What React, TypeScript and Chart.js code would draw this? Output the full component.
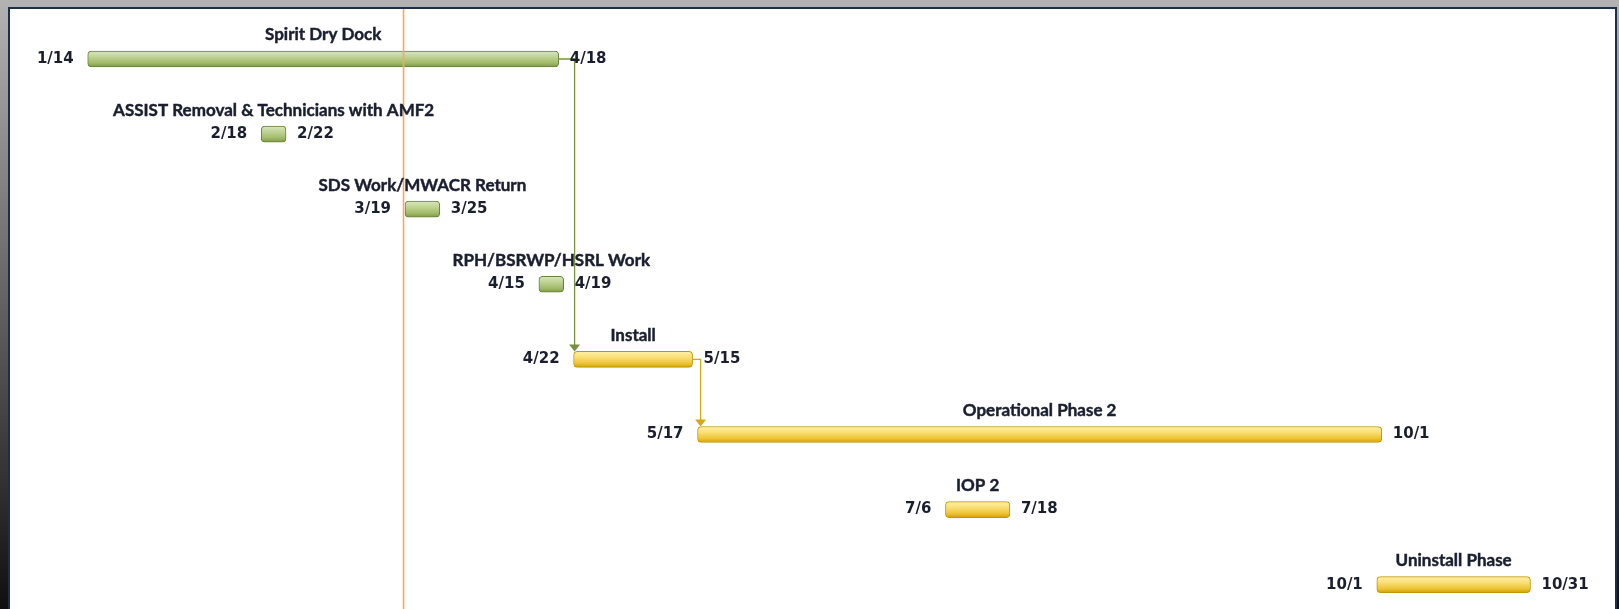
import React, { useEffect, useRef } from "react";
import { Chart, registerables } from "chart.js";

Chart.register(...registerables);

// ---- data ----
const taskNames = [
  "Spirit Dry Dock",
  "ASSIST Removal & Technicians with AMF2",
  "SDS Work/MWACR Return",
  "RPH/BSRWP/HSRL Work",
  "Install",
  "Operational Phase 2",
  "IOP 2",
  "Uninstall Phase",
];
const startDates = ["1/14", "2/18", "3/19", "4/15", "4/22", "5/17", "7/6", "10/1"];
const endDates = ["4/18", "2/22", "3/25", "4/19", "5/15", "10/1", "7/18", "10/31"];
const taskGroups = ["prep", "prep", "prep", "prep", "ops", "ops", "ops", "ops"];
const links: [number, number][] = [
  [0, 4],
  [4, 5],
];
const statusDate = "3/18";
const statusDayFraction = 0.7;

// ---- helpers ----
const monthStarts = [0, 31, 59, 90, 120, 151, 181, 212, 243, 273, 304, 334];
function dayOfYear(md: string): number {
  const [m, d] = md.split("/").map(Number);
  return monthStarts[m - 1] + d;
}

const rows = taskNames.map((_, i) => ({
  x: [dayOfYear(startDates[i]), dayOfYear(endDates[i]) + 1],
  y: i,
}));
const statusValue = dayOfYear(statusDate) + statusDayFraction;

const palette: Record<string, any> = {
  prep: {
    border: "#67833a",
    stops: ["#d9e6c0", "#c0d495", "#a0ba69", "#7d9944"],
    link: "#77913f",
  },
  ops: {
    border: "#c09604",
    stops: ["#fff0a8", "#fbe07a", "#ecc434", "#cfa107"],
    link: "#d4a814",
  },
};

const BAR_H = 16;
const TEXT = "#1a1f30";
const NAME_FONT = "bold 17px Lato";
const DATE_FONT = "bold 15px 'DejaVu Sans'";

const ganttDecor = {
  id: "ganttDecor",
  afterDatasetsDraw(chart: any) {
    const ctx: CanvasRenderingContext2D = chart.ctx;
    const meta = chart.getDatasetMeta(0);
    const xs = chart.scales.x;
    const area = chart.chartArea;
    const boxes = meta.data.map((el: any) => {
      const p = el.getProps(["x", "y", "base"], true);
      return {
        left: Math.min(p.x, p.base),
        right: Math.max(p.x, p.base),
        y: p.y,
      };
    });

    // dependency links
    links.forEach(([a, b]) => {
      const pa = boxes[a];
      const pb = boxes[b];
      const color = palette[taskGroups[a]].link;
      const vx = Math.max(pb.left + 1, pa.right + 8);
      const tipY = pb.y - BAR_H / 2;
      ctx.save();
      ctx.strokeStyle = color;
      ctx.fillStyle = color;
      ctx.lineWidth = 1.3;
      ctx.beginPath();
      ctx.moveTo(pa.right, pa.y);
      ctx.lineTo(vx, pa.y);
      ctx.lineTo(vx, tipY - 6);
      ctx.stroke();
      ctx.beginPath();
      ctx.moveTo(vx, tipY);
      ctx.lineTo(vx - 5.5, tipY - 7);
      ctx.lineTo(vx + 5.5, tipY - 7);
      ctx.closePath();
      ctx.fill();
      ctx.restore();
    });

    // status date line
    const sx = xs.getPixelForValue(statusValue);
    ctx.save();
    ctx.strokeStyle = "#f7a760";
    ctx.lineWidth = 1.6;
    ctx.beginPath();
    ctx.moveTo(sx, area.top + 9);
    ctx.lineTo(sx, area.bottom);
    ctx.stroke();
    ctx.restore();

    // labels
    ctx.save();
    ctx.fillStyle = TEXT;
    ctx.strokeStyle = TEXT;
    ctx.lineWidth = 0.45;
    ctx.textBaseline = "middle";
    boxes.forEach((b: any, i: number) => {
      ctx.font = NAME_FONT;
      ctx.textAlign = "center";
      const cx = (b.left + b.right) / 2;
      ctx.fillText(taskNames[i], cx, b.y - 24);
      ctx.strokeText(taskNames[i], cx, b.y - 24);
      ctx.font = DATE_FONT;
      ctx.textAlign = "right";
      ctx.fillText(startDates[i], b.left - 14, b.y);
      ctx.textAlign = "left";
      ctx.fillText(endDates[i], b.right + 11, b.y);
    });
    ctx.restore();
  },
};

export default function App() {
  const ref = useRef<HTMLCanvasElement | null>(null);

  useEffect(() => {
    const canvas = ref.current;
    if (!canvas) return;
    const chart = new Chart(canvas, {
      type: "bar",
      data: {
        datasets: [
          {
            data: rows as any,
            barThickness: BAR_H,
            borderWidth: 1,
            borderRadius: 4,
            borderSkipped: false,
            borderColor: (c: any) =>
              palette[taskGroups[c.dataIndex ?? 0]].border,
            backgroundColor: (c: any) => {
              const g = taskGroups[c.dataIndex ?? 0];
              const stops = palette[g].stops;
              const ys = c.chart.scales?.y;
              if (!ys || c.raw == null || c.raw.y == null) return stops[1];
              const yc = ys.getPixelForValue(c.raw.y);
              if (!Number.isFinite(yc)) return stops[1];
              const grad = c.chart.ctx.createLinearGradient(
                0,
                yc - BAR_H / 2,
                0,
                yc + BAR_H / 2
              );
              grad.addColorStop(0, stops[0]);
              grad.addColorStop(0.35, stops[1]);
              grad.addColorStop(0.75, stops[2]);
              grad.addColorStop(1, stops[3]);
              return grad;
            },
          },
        ],
      },
      options: {
        indexAxis: "y",
        animation: false,
        responsive: false,
        maintainAspectRatio: false,
        layout: { padding: 0 },
        plugins: {
          legend: { display: false },
          tooltip: { enabled: false },
          title: { display: false },
        },
        scales: {
          x: {
            type: "linear",
            display: false,
            offset: false,
            min: -3.689,
            max: 322.85,
          },
          y: {
            type: "linear",
            display: false,
            offset: false,
            reverse: true,
            min: -0.7856,
            max: 7.3237,
          },
        },
      },
      plugins: [ganttDecor],
    } as any);
    return () => chart.destroy();
  }, []);

  return (
    <div
      style={{
        position: "fixed",
        left: 0,
        top: 0,
        width: 1619,
        height: 609,
        overflow: "hidden",
        background: "linear-gradient(180deg, #b3b3b3 0%, #6a6a6a 45%, #0f0f0f 100%)",
      }}
    >
      <div
        style={{
          position: "absolute",
          left: 8,
          top: 7,
          width: 1609,
          height: 640,
          background: "#ffffff",
          border: "2px solid #1d2f48",
          boxSizing: "border-box",
        }}
      />
      <canvas
        ref={ref}
        width={1619}
        height={609}
        style={{ position: "absolute", left: 0, top: 0, width: 1619, height: 609 }}
      />
    </div>
  );
}
